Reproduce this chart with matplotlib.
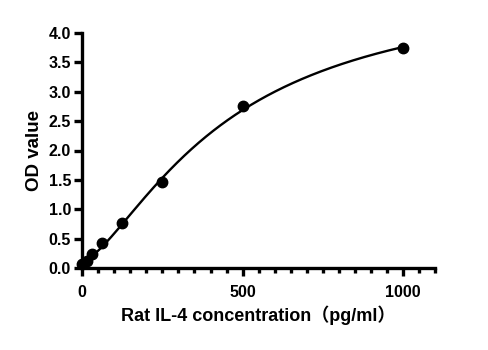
import numpy as np
import matplotlib
matplotlib.use("Agg")
import matplotlib.pyplot as plt
from matplotlib.ticker import MultipleLocator

# standard curve data
conc = [0, 15.6, 31.25, 62.5, 125, 250, 500, 1000]
od = [0.07, 0.12, 0.24, 0.42, 0.76, 1.46, 2.75, 3.74]

plt.rcParams['font.family'] = ['Liberation Sans', 'Noto Sans CJK SC', 'DejaVu Sans']
plt.rcParams['font.weight'] = 'bold'

x = np.array(conc, dtype=float)
y = np.array(od, dtype=float)


# 4PL fit: grid over slope/midpoint, linear solve for top/bottom
def basis(xx, b, c):
    return 1.0 / (1.0 + (xx / c) ** b)


best = None
for b in np.linspace(0.6, 3.0, 121):
    for c in np.linspace(100, 4000, 391):
        g = basis(x, b, c)
        A = np.column_stack([g, 1 - g])
        coef, *_ = np.linalg.lstsq(A, y, rcond=None)
        err = np.sum((A @ coef - y) ** 2)
        if best is None or err < best[0]:
            best = (err, b, c, coef)
_, b, c, (a, d) = best

xs = np.linspace(0, 1000, 400)
g = basis(xs, b, c)
ys = a * g + d * (1 - g)

fig = plt.figure(figsize=(4.89, 3.5), dpi=100)
ax = fig.add_axes([0.168, 0.234, 0.722, 0.672])
ax.plot(xs, ys, color='black', lw=1.7)
ax.plot(x, y, 'o', color='black', ms=7.5, clip_on=False, zorder=3)

ax.set_xlim(0, 1100)
ax.set_ylim(0, 4.0)
ax.xaxis.set_major_locator(MultipleLocator(500))
ax.xaxis.set_minor_locator(MultipleLocator(50))
ax.yaxis.set_major_locator(MultipleLocator(0.5))
ax.yaxis.set_major_formatter(matplotlib.ticker.FormatStrFormatter('%.1f'))

for s in ['top', 'right']:
    ax.spines[s].set_visible(False)
for s in ['left', 'bottom']:
    ax.spines[s].set_linewidth(2.4)
ax.tick_params(which='major', length=6, width=2.4, labelsize=11.5, pad=2)
ax.tick_params(which='minor', length=3.5, width=2.4)
ax.tick_params(axis='x', pad=6)
for lbl in ax.get_xticklabels() + ax.get_yticklabels():
    lbl.set_fontweight('bold')

ax.set_xlabel('Rat IL-4 concentration（pg/ml）', fontsize=13, fontweight='bold', labelpad=4)
ax.set_ylabel('OD value', fontsize=13.5, fontweight='bold', labelpad=4)

fig.savefig('out.png', dpi=100)
